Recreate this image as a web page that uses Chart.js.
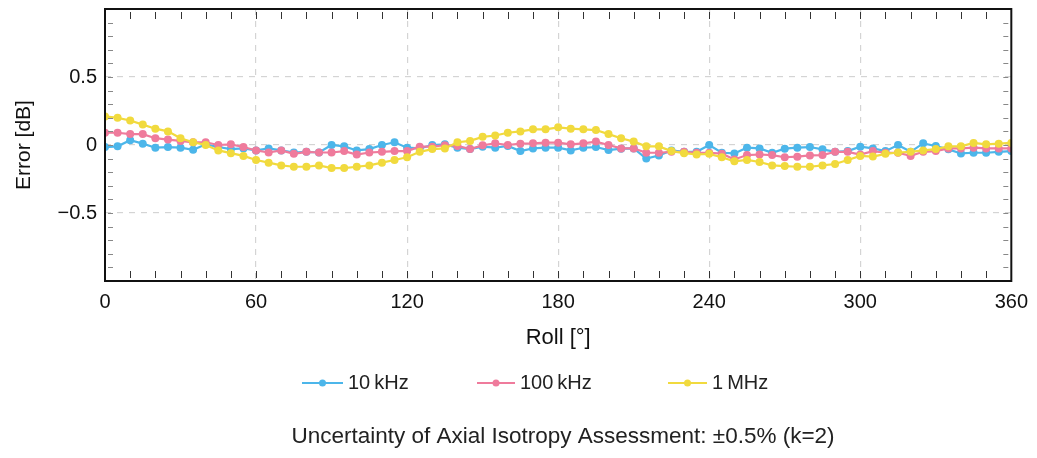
<!DOCTYPE html>
<html>
<head>
<meta charset="utf-8">
<script src="https://cdn.jsdelivr.net/npm/chart.js@4/dist/chart.umd.min.js"></script>
<style>
  html, body { margin: 0; padding: 0; background: #fff; }
  #wrap { width: 1037px; height: 458px; }
</style>
</head>
<body>
<div id="wrap"><canvas id="myChart1" width="1037" height="458"></canvas></div>
<script>
// Roll angle in degrees
var roll = [0,5,10,15,20,25,30,35,40,45,50,55,60,65,70,75,80,85,90,95,100,105,110,115,
  120,125,130,135,140,145,150,155,160,165,170,175,180,185,190,195,200,205,210,215,220,225,230,235,
  240,245,250,255,260,265,270,275,280,285,290,295,300,305,310,315,320,325,330,335,340,345,350,355,360];

// Error [dB] for each frequency
var err10k = [-0.015,-0.01,0.035,0.01,-0.02,-0.015,-0.02,-0.035,0.005,-0.015,-0.03,-0.025,-0.04,-0.025,-0.04,-0.055,-0.05,-0.055,0.0,-0.01,-0.04,-0.03,0.0,0.02,
  -0.02,-0.025,0.0,0.005,-0.02,-0.03,-0.012,-0.02,-0.007,-0.045,-0.025,-0.02,-0.02,-0.04,-0.02,-0.015,-0.037,-0.027,-0.025,-0.1,-0.077,-0.04,-0.05,-0.05,
  0.0,-0.057,-0.062,-0.02,-0.025,-0.057,-0.027,-0.02,-0.015,-0.032,-0.05,-0.045,-0.012,-0.025,-0.045,0.0,-0.05,0.012,-0.007,-0.032,-0.062,-0.057,-0.057,-0.05,-0.045];
var err100k = [0.09,0.09,0.08,0.08,0.05,0.04,0.03,0.02,0.02,0.0,0.005,-0.015,-0.04,-0.055,-0.04,-0.065,-0.05,-0.055,-0.055,-0.045,-0.07,-0.055,-0.05,-0.045,
  -0.045,-0.012,-0.012,-0.002,-0.007,-0.03,-0.002,0.012,0.0,0.01,0.012,0.017,0.017,0.005,0.012,0.025,0.0,-0.025,-0.025,-0.057,-0.057,-0.05,-0.05,-0.057,
  -0.057,-0.064,-0.106,-0.074,-0.07,-0.074,-0.09,-0.086,-0.077,-0.074,-0.05,-0.05,-0.07,-0.045,-0.057,-0.057,-0.08,-0.05,-0.045,-0.025,-0.025,-0.02,-0.025,-0.025,-0.025];
var err1M = [0.21,0.20,0.18,0.15,0.12,0.10,0.05,0.02,0.0,-0.04,-0.06,-0.08,-0.11,-0.13,-0.15,-0.16,-0.16,-0.15,-0.17,-0.17,-0.16,-0.15,-0.13,-0.11,
  -0.09,-0.05,-0.03,-0.025,0.02,0.03,0.06,0.07,0.09,0.10,0.115,0.115,0.13,0.12,0.115,0.11,0.08,0.05,0.025,-0.01,-0.01,-0.045,-0.06,-0.07,
  -0.065,-0.09,-0.12,-0.11,-0.125,-0.15,-0.155,-0.16,-0.16,-0.15,-0.14,-0.11,-0.08,-0.085,-0.065,-0.055,-0.05,-0.04,-0.03,-0.01,-0.01,0.015,0.005,0.01,0.015];

var seriesNames = ["10\u2009kHz", "100\u2009kHz", "1\u2009MHz"];
var xTicks = [0, 60, 120, 180, 240, 300, 360];
var yTickLabels = {"-0.5": "\u22120.5", "0": "0", "0.5": "0.5"};
var footText = "Uncertainty of Axial Isotropy Assessment: \u00b10.5% (k=2)";

var blue = "#4cb6ea";
var pink = "#ef7b9c";
var yellow = "#f1da3e";
var font = "'Liberation Sans', Arial, sans-serif";
var gridCol = "#d4d4d4";

function pts(vals) {
  return roll.map(function (r, i) { return {x: r, y: vals[i]}; });
}

// frame, minor ticks, legend and footer
var extras = {
  id: "extras",
  afterDraw: function (chart) {
    var c = chart.ctx, a = chart.chartArea;
    var xs = chart.scales.x, ys = chart.scales.y;
    c.save();
    c.strokeStyle = "#333";
    c.lineWidth = 1;
    for (var d = 10; d < 360; d += 10) {
      var px = Math.round(xs.getPixelForValue(d)) + 0.5;
      c.beginPath();
      c.moveTo(px, a.top + 3); c.lineTo(px, a.top + 10);
      c.moveTo(px, a.bottom - 3); c.lineTo(px, a.bottom - 10);
      c.stroke();
    }
    c.strokeStyle = "#888";
    for (var k = -9; k <= 9; k++) {
      var py = Math.round(ys.getPixelForValue(k / 10)) + 0.5;
      c.beginPath();
      c.moveTo(a.left + 3, py); c.lineTo(a.left + 8, py);
      c.moveTo(a.right - 3, py); c.lineTo(a.right - 8, py);
      c.stroke();
    }
    c.strokeStyle = "#111";
    c.lineWidth = 2;
    c.strokeRect(a.left, a.top, a.right - a.left, a.bottom - a.top);

    // legend
    var items = [[302, 343, blue], [477, 515, pink], [668, 707, yellow]];
    c.font = "20px " + font;
    c.textBaseline = "middle";
    for (var i = 0; i < items.length; i++) {
      var it = items[i], ly = 383;
      c.strokeStyle = it[2];
      c.lineWidth = 2;
      c.beginPath(); c.moveTo(it[0], ly); c.lineTo(it[1], ly); c.stroke();
      c.fillStyle = it[2];
      c.beginPath(); c.arc((it[0] + it[1]) / 2, ly, 3.5, 0, Math.PI * 2); c.fill();
      c.fillStyle = "#222";
      c.fillText(seriesNames[i], it[1] + 5, ly);
    }
    c.textAlign = "center";
    c.font = "22.5px " + font;
    c.fillText(footText, 563, 437);
    c.restore();
  }
};

function line(label, vals, color, ord) {
  return {
    label: label,
    data: pts(vals),
    borderColor: color,
    backgroundColor: color,
    borderWidth: 2.2,
    pointRadius: 4,
    pointHoverRadius: 4,
    pointBorderWidth: 0,
    order: ord,
    fill: false
  };
}

var ctx = document.getElementById("myChart1");
var myChart = new Chart(ctx, {
  type: "line",
  data: {
    datasets: [
      line(seriesNames[0], err10k, blue, 3),
      line(seriesNames[1], err100k, pink, 2),
      line(seriesNames[2], err1M, yellow, 1)
    ]
  },
  plugins: [extras],
  options: {
    responsive: false,
    animation: false,
    layout: { padding: { left: 8, top: 9, right: 25, bottom: 103 } },
    plugins: { legend: { display: false }, tooltip: { enabled: false } },
    scales: {
      x: {
        type: "linear",
        min: 0, max: 360,
        afterBuildTicks: function (s) { s.ticks = xTicks.map(function (v) { return {value: v}; }); },
        afterFit: function (s) { s.height = 74; },
        border: { display: false, dash: [6, 6] },
        grid: {
          drawTicks: false,
          color: function (c) { return (c.tick.value > 0 && c.tick.value < 360) ? gridCol : "rgba(0,0,0,0)"; },
          lineWidth: 1.2
        },
        ticks: { color: "#111", padding: 9, font: { family: font, size: 20 }, maxRotation: 0 },
        title: { display: true, text: "Roll [\u00b0]", color: "#111", padding: { top: 6 }, font: { family: font, size: 22 } }
      },
      y: {
        min: -1, max: 1,
        ticks: {
          stepSize: 0.5,
          color: "#111",
          padding: 8,
          font: { family: font, size: 20 },
          callback: function (v) { var k = String(Math.round(v * 10) / 10); return yTickLabels[k] || ""; }
        },
        afterFit: function (s) { s.width = 97; s.paddingTop = 0; s.paddingBottom = 0; },
        border: { display: false, dash: [6, 6] },
        grid: {
          drawTicks: false,
          color: function (c) { return Math.abs(c.tick.value) < 0.9 ? gridCol : "rgba(0,0,0,0)"; },
          lineWidth: 1.2
        },
        title: { display: true, text: "Error [dB]", color: "#111", padding: { bottom: 12 }, font: { family: font, size: 21 } }
      }
    }
  }
});
</script>
</body>
</html>
